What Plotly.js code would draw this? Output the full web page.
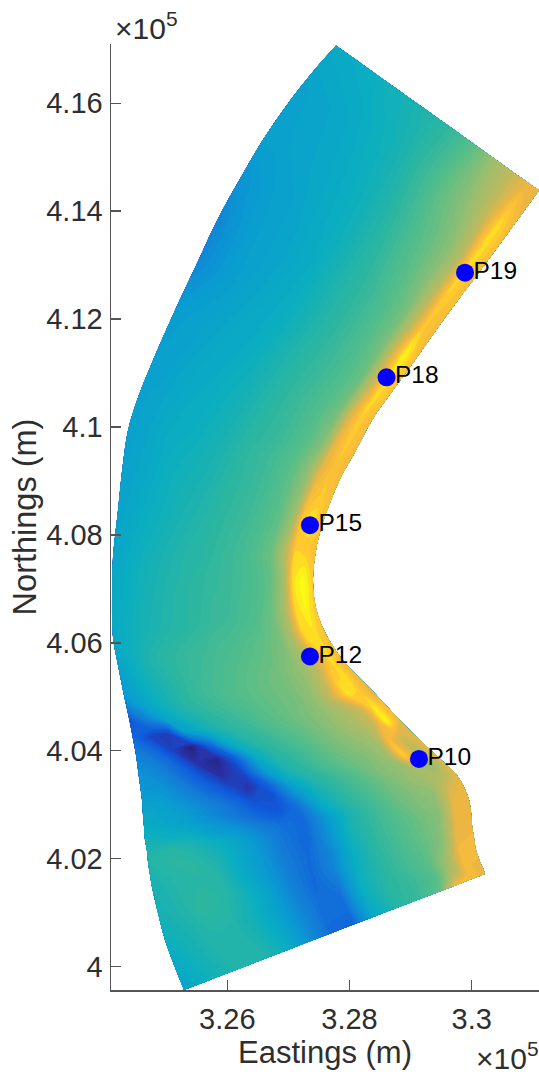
<!DOCTYPE html>
<html>
<head>
<meta charset="utf-8">
<script src="https://cdn.plot.ly/plotly-3.0.1.min.js"></script>
<style>html,body{margin:0;padding:0;background:#fff}</style>
</head>
<body>
<div id="chart" style="width:539px;height:1074px"></div>
<script>
// Cross-channel sections, left bank to right bank, metres
const leftE  = [327779,327190,326650,326257,325831,325504,325144,324784,324522,324375,324293,324211,324129,324113,324129,324211,
 324309,324358,324407,324457,324506,324538,324571,324604,324620,324637,324653,324686,324702,324735,324768,324866,324980,325128,325291];
const leftN  = [417069,416291,415439,414699,413828,413032,412161,411235,410495,409939,409328,408458,407587,406921,406106,405587,
 405032,404772,404513,404217,403920,403643,403365,403087,402809,402587,402346,402143,401939,401698,401476,400994,400494,400031,399569];
const rightE = [331102,330627,330169,329776,329416,329072,328712,328368,328090,327894,327730,327550,327452,327403,327452,327599,
 327894,328123,328368,328597,328827,329088,329367,329579,329759,329874,329956,329989,330005,330038,330070,330103,330136,330185,330218];
const rightN = [414384,413643,412939,412347,411791,411235,410680,410124,409532,409143,408735,408180,407717,407161,406643,406198,
 405680,405402,405124,404846,404569,404272,403976,403754,403550,403328,403087,402865,402624,402383,402161,402050,401939,401828,401717];
const across = [0,0.07,0.14,0.21,0.28,0.35,0.42,0.49,0.56,0.63,0.7,0.78,0.85,0.9,0.95,1];
// Field value at each section (rows) and across position (columns)
const field = [
[47,48,49,50,52,53,55,57,60,65,71,80,84,88,90,90],
[43,44,45,46,48,50,52,55,60,65,71,76,82,88,97,92],
[43,43,44,45,46,48,50,53,57,62,67,72,77,84,97,93],
[38,40,42,43,45,47,49,52,56,60,65,70,76,84,96,93],
[33,38,41,43,44,46,48,52,56,59,63,68,74,84,95,92],
[34,38,41,43,45,47,49,52,56,59,63,68,74,87,99,93],
[40,42,43,45,47,48,50,54,57,60,63,67,72,85,97,94],
[42,43,45,47,48,50,52,55,58,61,64,68,74,88,96,92],
[43,44,46,48,49,51,53,56,59,61,64,69,76,90,95,92],
[43,44,47,49,50,52,54,57,60,62,65,70,78,90,94,92],
[43,45,47,50,52,53,55,58,60,62,65,70,78,92,95,93],
[44,46,49,51,53,55,57,59,61,63,66,70,80,96,97,94],
[45,48,51,53,55,57,58,60,62,64,67,72,84,96,95,94],
[46,49,52,54,56,58,59,61,62,64,66,70,80,97,100,95],
[47,50,53,55,57,58,60,62,63,65,67,72,82,96,99,95],
[44,50,55,58,60,62,63,65,66,68,70,74,84,96,97,94],
[40,46,52,56,60,63,65,67,69,71,73,77,82,90,97,92],
[30,42,50,56,60,63,66,68,70,72,74,78,86,95,97,91],
[18,30,44,52,57,61,64,67,70,72,74,80,90,98,95,90],
[25,15,12,42,51,57,61,65,69,72,75,79,84,88,98,92],
[32,26,14,2,24,48,57,61,66,70,74,79,82,87,99,90],
[36,32,24,10,4,22,48,58,62,68,73,77,80,93,87,90],
[38,36,29,20,9,15,38,54,60,66,71,75,80,96,83,90],
[42,40,34,27,19,10,24,46,56,62,68,75,78,82,78,90],
[46,44,39,33,27,18,18,36,52,60,66,73,78,80,84,90],
[48,45,42,36,30,23,19,28,48,58,64,72,76,78,88,91],
[52,50,49,42,38,31,26,25,40,54,62,70,75,77,90,91],
[55,57,55,50,44,36,28,24,38,54,61,68,73,76,90,91],
[57,59,58,54,46,38,29,24,36,52,60,67,72,76,90,91],
[55,58,59,56,47,39,30,25,33,50,59,66,71,76,91,92],
[54,57,58,58,48,40,31,25,33,50,58,65,70,78,92,92],
[53,56,60,58,52,43,32,25,30,50,58,64,70,80,92,92],
[50,54,57,57,52,44,34,26,27,50,58,62,68,80,92,91],
[47,52,56,57,54,46,35,26,26,48,58,62,68,84,92,91],
[44,50,54,57,56,48,36,25,23,46,56,62,72,92,92,91]
];
const pointNames = ["P10","P12","P15","P18","P19"];
const pointE = [329137,327353,327353,328606,329890];
const pointN = [403850,405750,408180,410920,412860];
const xTicks = [326000,328000,330000];
const xTickText = ["3.26","3.28","3.3"];
const yTicks = [400000,402000,404000,406000,408000,410000,412000,414000,416000];
const yTickText = ["4","4.02","4.04","4.06","4.08","4.1","4.12","4.14","4.16"];
const palette = [
[0,"rgb(38,30,110)"],[0.1,"rgb(40,50,170)"],[0.2,"rgb(15,90,220)"],[0.3,"rgb(20,122,215)"],
[0.4,"rgb(10,155,210)"],[0.5,"rgb(10,174,192)"],[0.6,"rgb(45,182,160)"],[0.7,"rgb(90,190,135)"],
[0.8,"rgb(155,190,110)"],[0.87,"rgb(195,185,90)"],[0.92,"rgb(240,182,65)"],[0.96,"rgb(255,198,48)"],[1,"rgb(250,250,20)"]
];

const gridE = leftE.map((l,i)=>across.map(f=>l+f*(rightE[i]-l)));
const gridN = leftN.map((l,i)=>across.map(f=>l+f*(rightN[i]-l)));
const aIdx = across.map((_,j)=>j);
const bIdx = leftE.map((_,i)=>i);
const hiddenAxis = {showgrid:false,showline:false,showticklabels:"none",startline:false,endline:false,minorgridcount:0,ticks:""};

const ink = "#2e2e2e";
const F = "Liberation Sans, Arial, Helvetica, sans-serif";
const traces = [
 {type:"carpet",carpet:"river",a:aIdx,b:bIdx,x:gridE,y:gridN,aaxis:hiddenAxis,baxis:hiddenAxis,xaxis:"x",yaxis:"y"},
 {type:"contourcarpet",carpet:"river",a:aIdx,b:bIdx,z:field,autocontour:false,zauto:false,zmin:0,zmax:100,
  contours:{coloring:"fill",start:0,end:100,size:1.5,showlines:false},line:{width:0},colorscale:palette,showscale:false,xaxis:"x",yaxis:"y"},
 {type:"scatter",mode:"markers",x:pointE,y:pointN,marker:{size:18,color:"#0000ff"},cliponaxis:false,showlegend:false,xaxis:"x",yaxis:"y"},
 {type:"scatter",mode:"markers+text",x:pointE,y:pointN,text:pointNames,textposition:"middle right",
  textfont:{family:F,size:24.5,color:"#000"},marker:{size:12,color:"rgba(0,0,0,0)"},cliponaxis:false,showlegend:false,xaxis:"x",yaxis:"y"}
];
const layout = {
 width:539,height:1074,paper_bgcolor:"#fff",plot_bgcolor:"#fff",showlegend:false,
 margin:{l:111,r:0,t:44,b:84,pad:0},font:{family:F,color:ink},
 xaxis:{range:[324097,331101],tickmode:"array",tickvals:xTicks,ticktext:xTickText,ticks:"inside",ticklen:10,tickwidth:1.3,tickcolor:"#555",
  showline:true,linecolor:"#555",linewidth:1.5,showgrid:false,zeroline:false,tickfont:{family:F,size:29,color:ink},ticklabelstandoff:3,
  title:{text:"Eastings (m)",font:{family:F,size:31,color:ink},standoff:0}},
 yaxis:{range:[399569,417096],tickmode:"array",tickvals:yTicks,ticktext:yTickText,ticks:"inside",ticklen:10,tickwidth:1.3,tickcolor:"#555",
  showline:true,linecolor:"#555",linewidth:1.5,showgrid:false,zeroline:false,tickfont:{family:F,size:29,color:ink},ticklabelstandoff:1,
  title:{text:"Northings (m)",font:{family:F,size:32.5,color:ink},standoff:0}},
 annotations:[
  {xref:"paper",yref:"paper",x:0,y:1,xanchor:"left",yanchor:"bottom",xshift:2,yshift:-3,showarrow:false,text:"×10<sup>5</sup>",font:{family:F,size:30,color:ink}},
  {xref:"paper",yref:"paper",x:1,y:0,xanchor:"right",yanchor:"top",xshift:2,yshift:-45,showarrow:false,text:"×10<sup>5</sup>",font:{family:F,size:30,color:ink}}
 ]
};
Plotly.newPlot("chart",traces,layout,{staticPlot:true,displayModeBar:false});
</script>
</body>
</html>
